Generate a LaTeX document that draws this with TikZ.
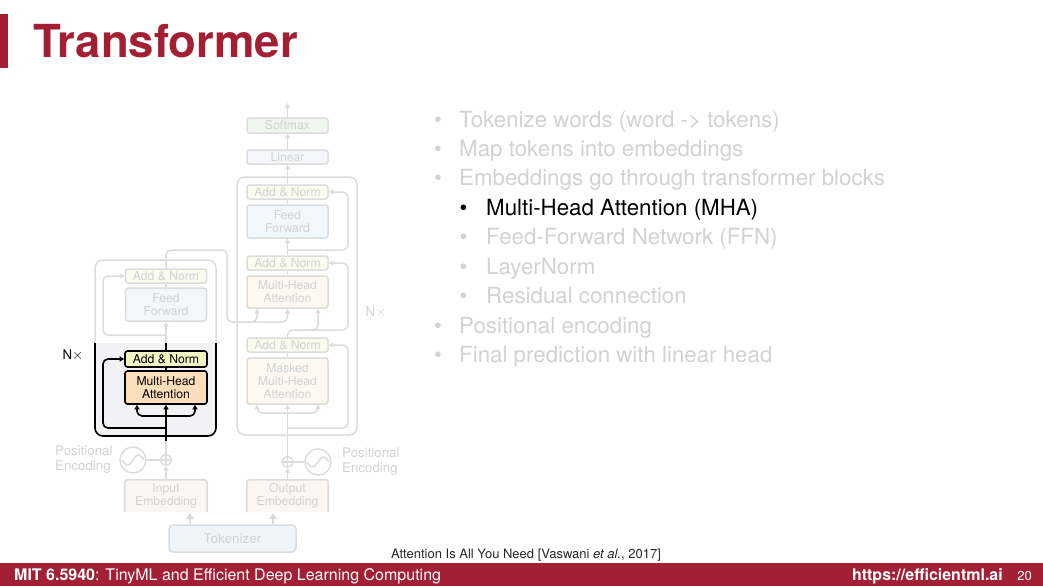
\documentclass[tikz,border=0pt]{standalone}
\usepackage{fontspec}
\setmainfont{TeX Gyre Heros}
\usepackage{tikz}
\usetikzlibrary{arrows.meta,positioning}
\definecolor{MITred}{RGB}{163,31,52}
\definecolor{fadeline}{RGB}{220,220,220}
\definecolor{fadetext}{RGB}{210,210,210}
\definecolor{hlbg}{RGB}{242,242,244}
\definecolor{anfill}{RGB}{241,245,196}
\definecolor{mhafill}{RGB}{252,222,186}
\definecolor{anfade}{RGB}{251,252,240}
\definecolor{mhafade}{RGB}{254,248,240}
\definecolor{fffade}{RGB}{240,247,253}
\definecolor{smfade}{RGB}{240,247,238}
\definecolor{linfade}{RGB}{244,246,250}
\definecolor{embfade}{RGB}{253,246,244}
\definecolor{tokfill}{RGB}{238,245,251}
\newcommand{\boxfont}{\fontsize{12.2}{13}\selectfont}
\newcommand{\listfont}{\fontsize{22.3}{25}\selectfont}

\begin{document}
\begin{tikzpicture}[x=1pt,y=-1pt,
            fadebox/.style={draw=fadeline, line width=1.5pt, rounded corners=2.5pt, inner sep=0pt, text=fadetext, align=center, font=\boxfont, minimum width=81pt},
            hlbox/.style={draw=black, line width=1.6pt, rounded corners=2.5pt, inner sep=0pt, text=black, align=center, font=\boxfont, minimum width=82pt},
            link/.style={draw=fadeline, line width=1.5pt, rounded corners=5pt},
            hlink/.style={draw=black, line width=1.6pt, rounded corners=5pt},
            arr/.style={-{Triangle[length=4.5pt,width=5pt]}},
            label/.style={text=fadetext, font=\fontsize{13.3}{15.5}\selectfont, inner sep=0pt, align=left}
        ]
            \useasboundingbox (0,0) rectangle (1043,586);

            % Title
            \fill[MITred] (0,14) rectangle (8,68);
            \node (title) at (33,58) [anchor=base west, inner sep=0pt, text=MITred, font=\fontsize{45.5}{50}\selectfont\bfseries] {Transformer};

            % Encoder block
            \draw[link, rounded corners=8pt] (95,343) -- (95,260) -- (216,260) -- (216,343);
            \fill[hlbg] (95,343) [rounded corners=8pt] -- (95,436) -- (216,436) [sharp corners] -- (216,343) -- cycle;
            \draw[hlink, rounded corners=8pt] (95,343) -- (95,436) -- (216,436) -- (216,343);
            \node (encAN2) at (166,276) [fadebox, fill=anfade, minimum height=14pt] {Add \& Norm};
            \node (encFF) at (166,304.5) [fadebox, fill=fffade, minimum height=33pt] {Feed\\Forward};
            \node (encAN) at (166,359) [hlbox, fill=anfill, minimum height=16pt] {Add \& Norm};
            \node (encMHA) at (166,387.5) [hlbox, fill=mhafill, minimum height=33pt] {Multi-Head\\Attention};
            \node (encN) at (73,355) [inner sep=0pt, font=\fontsize{13.3}{15}\selectfont] {N$\times$};
            \coordinate (encIn) at (166,441);
            \coordinate (encSplit) at (166,416);
            \coordinate (encRes) at (166,428);
            \coordinate (encCut) at (166,343);
            \coordinate (encRes2) at (166,335);
            \coordinate (encTop) at (166,250);
            \coordinate (encLane) at (103,0);
            \coordinate (encColL) at (137,0);
            \coordinate (encColR) at (195,0);
            \draw[hlink, arr] (encIn) -- (encMHA.south);
            \draw[hlink, arr] (encSplit) -| (encMHA.south -| encColL);
            \draw[hlink, arr] (encSplit) -| (encMHA.south -| encColR);
            \draw[hlink, arr] (encRes) -| (encLane |- encAN.west) -- (encAN.west);
            \draw[hlink] (encMHA.north) -- (encAN.south);
            \draw[hlink] (encAN.north) -- (encCut);
            \draw[link, arr] (encCut) -- (encFF.south);
            \draw[link, arr] (encRes2) -| (encLane |- encAN2.west) -- (encAN2.west);
            \draw[link] (encFF.north) -- (encAN2.south);

            % Decoder block
            \draw[link, rounded corners=8pt] (237,177) rectangle (357,435);
            \node (softmax) at (287.5,125.5) [fadebox, fill=smfade, minimum height=15pt] {Softmax};
            \node (linear) at (287.5,157) [fadebox, fill=linfade, minimum height=14pt] {Linear};
            \node (decAN1) at (287.5,192) [fadebox, fill=anfade, minimum height=14pt] {Add \& Norm};
            \node (decFF) at (287.5,221.5) [fadebox, fill=fffade, minimum height=33pt] {Feed\\Forward};
            \node (decAN2) at (287.5,263) [fadebox, fill=anfade, minimum height=14pt] {Add \& Norm};
            \node (decMHA) at (287.5,292) [fadebox, fill=mhafade, minimum height=32pt] {Multi-Head\\Attention};
            \node (decAN3) at (287.5,345) [fadebox, fill=anfade, minimum height=14pt] {Add \& Norm};
            \node (decMMHA) at (287.5,381) [fadebox, fill=mhafade, minimum height=46pt] {Masked\\Multi-Head\\Attention};
            \node (decN) at (376,312) [label] {N$\times$};
            \coordinate (decOut) at (287.5,103);
            \coordinate (decFFin) at (287.5,250);
            \coordinate (decQ) at (303,330);
            \coordinate (decSplit) at (287.5,413);
            \coordinate (decRes) at (287.5,428);
            \coordinate (decLane) at (348,0);
            \coordinate (decColK) at (257,0);
            \coordinate (decColQ) at (318,0);
            \coordinate (bridge) at (227,322);
            \coordinate (bridgeK) at (245,322);
            \draw[link, arr] (softmax.north) -- (decOut);
            \draw[link, arr] (linear.north) -- (softmax.south);
            \draw[link, arr] (decAN1.north) -- (linear.south);
            \draw[link] (decFF.north) -- (decAN1.south);
            \draw[link, arr] (decAN2.north) -- (decFF.south);
            \draw[link, arr] (decFFin) -| (decLane |- decAN1.east) -- (decAN1.east);
            \draw[link] (decMHA.north) -- (decAN2.south);
            \draw[link, arr] (decAN3.north) |- (decLane |- decQ) |- (decAN2.east);
            \draw[link, arr] (decQ) -| (decMHA.south -| decColQ);
            \draw[link] (decMMHA.north) -- (decAN3.south);
            \draw[link, arr] (decSplit) -| (decMMHA.south -| decColK);
            \draw[link, arr] (decSplit) -| (decMMHA.south -| decColQ);
            \draw[link, arr] (decRes) -| (decLane |- decAN3.east) -- (decAN3.east);

            % Encoder output into decoder
            \draw[link, arr] (encAN2.north) -- (encTop) -| (bridge) -| (decMHA.south);
            \draw[link, arr] (bridgeK) -| (decMHA.south -| decColK);

            % Embeddings and positional encoding
            \node (inEmb) at (166,496) [fill=embfade, minimum width=82pt, minimum height=32pt, inner sep=0pt, align=center, text=fadetext, font=\boxfont] {Input\\Embedding};
            \node (outEmb) at (287.5,496) [fill=embfade, minimum width=81pt, minimum height=32pt, inner sep=0pt, align=center, text=fadetext, font=\boxfont] {Output\\Embedding};
            \draw[link, rounded corners=2.5pt] (inEmb.south west) -- (inEmb.north west) -- (inEmb.north east) -- (inEmb.south east);
            \draw[link, rounded corners=2.5pt] (outEmb.south west) -- (outEmb.north west) -- (outEmb.north east) -- (outEmb.south east);
            \node (encAdd) at (166,460) [circle, draw=fadeline, line width=1.3pt, minimum size=11pt, inner sep=0pt] {};
            \node (decAdd) at (287.5,462) [circle, draw=fadeline, line width=1.3pt, minimum size=11pt, inner sep=0pt] {};
            \node (encPE) at (133,460) [circle, draw=fadeline, line width=1.5pt, minimum size=26pt, inner sep=0pt] {};
            \node (decPE) at (318,462) [circle, draw=fadeline, line width=1.5pt, minimum size=26pt, inner sep=0pt] {};
            \draw[fadeline, line width=1.3pt] (encAdd.north) -- (encAdd.south) (encAdd.west) -- (encAdd.east);
            \draw[fadeline, line width=1.3pt] (decAdd.north) -- (decAdd.south) (decAdd.west) -- (decAdd.east);
            \draw[fadeline, line width=1.5pt] plot[domain=-11:11, samples=50] ({133+\x},{460-5*sin(16.4*\x)});
            \draw[fadeline, line width=1.5pt] plot[domain=-11:11, samples=50] ({318+\x},{462-5*sin(16.4*\x)});
            \draw[link] (encPE.east) -- (encAdd.west);
            \draw[link] (decPE.west) -- (decAdd.east);
            \draw[link, arr] (inEmb.north) -- (encAdd.south);
            \draw[link, arr] (outEmb.north) -- (decAdd.south);
            \draw[link] (encAdd.north) -- (encIn);
            \draw[link, arr] (decAdd.north) -- (decMMHA.south);
            \node (encPEtxt) at (55,459.5) [label, anchor=west] {Positional\\Encoding};
            \node (decPEtxt) at (342,461.5) [label, anchor=west] {Positional\\Encoding};

            % Tokenizer
            \node (tok) at (232.5,538.5) [draw=fadeline, line width=1.5pt, rounded corners=4pt, fill=tokfill, minimum width=127pt, minimum height=27pt, inner sep=0pt, text=fadetext, font=\fontsize{13.5}{15}\selectfont] {Tokenizer};
            \coordinate (inTok) at (190,513);
            \coordinate (outTok) at (273,513);
            \draw[link, -{Triangle[length=6pt,width=8pt]}] (tok.north -| inTok) -- (inTok);
            \draw[link, -{Triangle[length=6pt,width=8pt]}] (tok.north -| outTok) -- (outTok);

            % Bullet list
            \foreach \lvl/\col/\txt [count=\i from 0] in {
                0/fadetext/{Tokenize words (word -> tokens)},
                0/fadetext/{Map tokens into embeddings},
                0/fadetext/{Embeddings go through transformer blocks},
                1/black/{Multi-Head Attention (MHA)},
                1/fadetext/{Feed-Forward Network (FFN)},
                1/fadetext/{LayerNorm},
                1/fadetext/{Residual connection},
                0/fadetext/{Positional encoding},
                0/fadetext/{Final prediction with linear head}} {
                \node (t\i) at ({459+27*\lvl},{127+29.45*\i}) [anchor=base west, inner sep=0pt, text=\col, font=\listfont] {\txt};
                \node (b\i) at ({438+25.5*\lvl},{127+29.45*\i}) [anchor=base, inner sep=0pt, text=\col, font=\listfont] {\textbullet};
            }

            % Reference and footer
            \node (cite) at (526,558) [anchor=base, inner sep=0pt, text=black!85, font=\fontsize{13}{15}\selectfont] {Attention Is All You Need [Vaswani \textit{et al.}, 2017]};
            \fill[MITred] (0,563) rectangle (1043,586);
            \node (course) at (14,580) [anchor=base west, inner sep=0pt, text=white, font=\fontsize{16}{18}\selectfont] {\textbf{MIT 6.5940}: TinyML and Efficient Deep Learning Computing};
            \node (url) at (1003,580) [anchor=base east, inner sep=0pt, text=white, font=\fontsize{16}{18}\selectfont\bfseries] {https://efficientml.ai};
            \node (page) at (1032,580) [anchor=base east, inner sep=0pt, text=white, font=\fontsize{13}{15}\selectfont] {20};
        \end{tikzpicture}
\end{document}
